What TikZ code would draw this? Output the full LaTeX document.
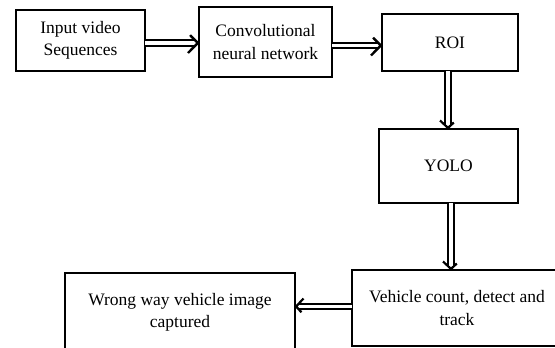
\documentclass[tikz,border=0pt]{standalone}
\usepackage{fontspec}
\setmainfont{Liberation Serif}
\usetikzlibrary{decorations.markings}
\begin{document}
\begin{tikzpicture}[x=1pt,y=-1pt,
  blk/.style={draw, line width=1.7pt, inner sep=0pt, outer sep=0pt, align=center,
    font=\fontsize{17.5}{22.5}\selectfont},
  dblbase/.style={double, double distance=3.8pt, line width=1.8pt, shorten >=3pt,
    postaction={decorate}},
  dblbig/.style={dblbase,
    decoration={markings, mark=at position 1 with {
      \draw[line width=2.4pt, double=none, line join=miter, miter limit=10, line cap=butt]
        (-11pt,-10pt) -- (-1.2pt,0pt) -- (-11pt,10pt);}}},
  dblsmall/.style={dblbase,
    decoration={markings, mark=at position 1 with {
      \draw[line width=2.2pt, double=none, line join=miter, miter limit=10, line cap=butt]
        (-8.5pt,-8pt) -- (-1.1pt,0pt) -- (-8.5pt,8pt);}}}]
\useasboundingbox (0,0) rectangle (555,348);
\clip (0,0) rectangle (555,348);
\node[blk, minimum width=129pt, minimum height=61pt] (inp) at (80.5,40.5) {Input video\\Sequences};
\node[blk, minimum width=133pt, minimum height=70pt] (cnn) at (265.5,42) {Convolutional\\neural network};
\node[blk, minimum width=136pt, minimum height=57pt] (roi) at (450,42.5) {ROI};
\node[blk, minimum width=139pt, minimum height=74pt] (yolo) at (448.5,166) {YOLO};
\node[blk, minimum width=210pt, minimum height=76pt] (veh) at (457,308) {Vehicle count, detect and\\track};
\node[blk, minimum width=230pt, minimum height=79pt] (wrong) at (180,312.5) {Wrong way vehicle image\\captured};
\draw[dblbig] ([yshift=-2.5pt]inp.east) -- ([yshift=-2.5pt]inp.east -| cnn.west);
\draw[dblbig] ([yshift=-3.5pt]cnn.east) -- ([yshift=-3.5pt]cnn.east -| roi.west);
\draw[dblsmall] ([xshift=-2pt]roi.south) -- ([xshift=-2pt]roi.south |- yolo.north);
\draw[dblsmall] ([xshift=2.5pt]yolo.south) -- ([xshift=2.5pt]yolo.south |- veh.north);
\draw[dblsmall] ([yshift=1.5pt]veh.west) -- ([yshift=1.5pt]veh.west -| wrong.east);
\end{tikzpicture}
\end{document}
